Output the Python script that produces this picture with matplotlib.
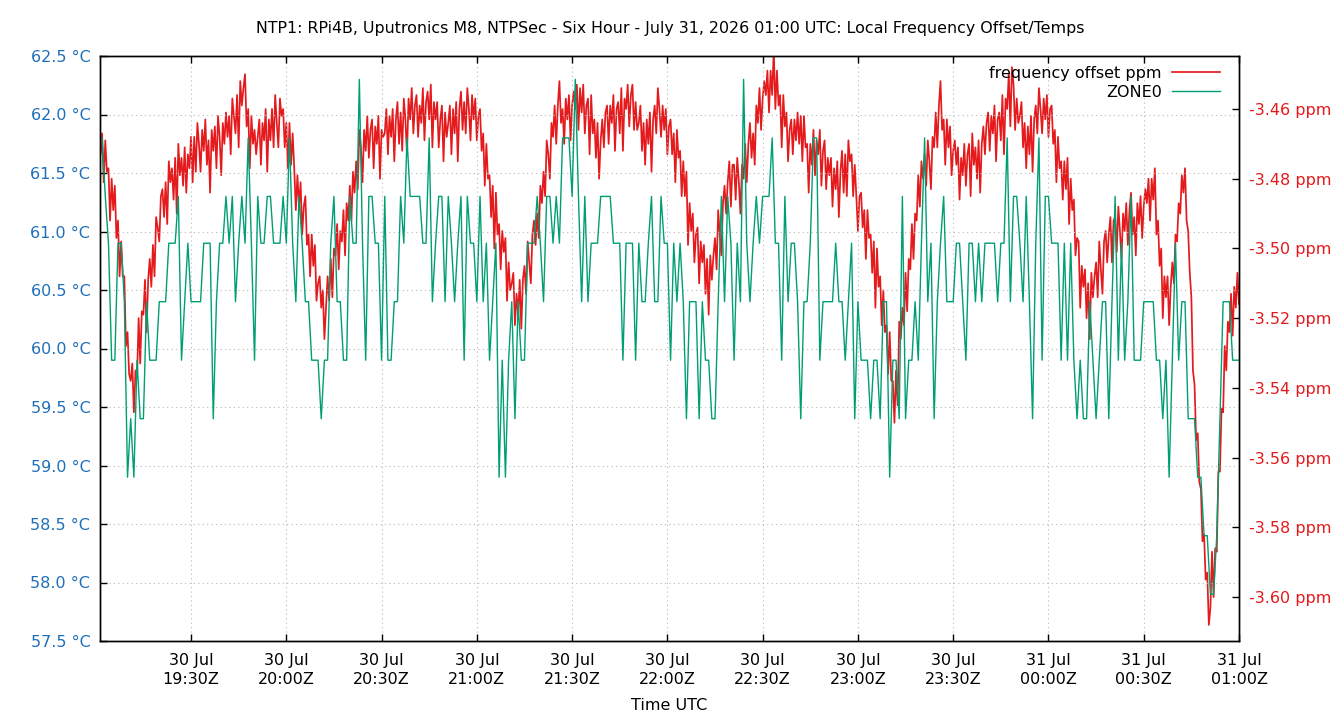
import numpy as np
import matplotlib
matplotlib.use("Agg")
import matplotlib.pyplot as plt
import matplotlib.dates as mdates
from matplotlib.ticker import FuncFormatter

# ---------------- data ----------------
title = ("NTP1: RPi4B, Uputronics M8, NTPSec - Six Hour - July 31, 2026 01:00 UTC: "
         "Local Frequency Offset/Temps")
x_label = "Time UTC"
series_names = ["frequency offset ppm", "ZONE0"]

view_start = "2026-07-30T19:01:20"
view_end = "2026-07-31T01:00:00"

freq_start = "2026-07-30T19:01:00"
freq_step_s = 30
freq_ppm = [
    -3.461, -3.473, -3.467, -3.481, -3.469, -3.478, -3.477, -3.492, -3.480, -3.489, -3.482, -3.497, -3.492, -3.508, -3.498, -3.508, -3.508, -3.528, -3.524, -3.536,
    -3.538, -3.533, -3.547, -3.535, -3.537, -3.520, -3.533, -3.518, -3.519, -3.509, -3.524, -3.509, -3.503, -3.511, -3.499, -3.508, -3.491, -3.494, -3.498, -3.485,
    -3.483, -3.491, -3.481, -3.493, -3.475, -3.481, -3.477, -3.486, -3.474, -3.490, -3.470, -3.479, -3.474, -3.482, -3.471, -3.484, -3.473, -3.477, -3.468, -3.481,
    -3.468, -3.478, -3.464, -3.470, -3.478, -3.466, -3.472, -3.463, -3.476, -3.469, -3.484, -3.466, -3.472, -3.465, -3.477, -3.462, -3.468, -3.479, -3.464, -3.470,
    -3.461, -3.468, -3.462, -3.473, -3.457, -3.462, -3.467, -3.456, -3.471, -3.452, -3.459, -3.454, -3.450, -3.465, -3.460, -3.477, -3.462, -3.470, -3.466, -3.473,
    -3.468, -3.463, -3.476, -3.464, -3.469, -3.460, -3.478, -3.463, -3.469, -3.460, -3.471, -3.456, -3.464, -3.471, -3.457, -3.462, -3.460, -3.471, -3.464, -3.477,
    -3.464, -3.476, -3.467, -3.477, -3.489, -3.479, -3.488, -3.481, -3.496, -3.488, -3.485, -3.499, -3.496, -3.508, -3.496, -3.505, -3.499, -3.515, -3.510, -3.508,
    -3.517, -3.512, -3.526, -3.517, -3.508, -3.515, -3.503, -3.514, -3.500, -3.502, -3.493, -3.506, -3.495, -3.498, -3.489, -3.502, -3.487, -3.492, -3.482, -3.492,
    -3.478, -3.484, -3.475, -3.483, -3.466, -3.471, -3.481, -3.466, -3.472, -3.462, -3.474, -3.466, -3.463, -3.477, -3.465, -3.470, -3.462, -3.480, -3.466, -3.468,
    -3.467, -3.460, -3.473, -3.462, -3.468, -3.460, -3.475, -3.463, -3.458, -3.470, -3.461, -3.472, -3.457, -3.463, -3.473, -3.457, -3.463, -3.454, -3.467, -3.459,
    -3.456, -3.468, -3.459, -3.464, -3.454, -3.469, -3.458, -3.455, -3.463, -3.453, -3.471, -3.458, -3.463, -3.458, -3.471, -3.463, -3.459, -3.475, -3.461, -3.468,
    -3.464, -3.459, -3.473, -3.460, -3.467, -3.458, -3.475, -3.460, -3.455, -3.466, -3.458, -3.467, -3.454, -3.460, -3.469, -3.456, -3.463, -3.457, -3.469, -3.462,
    -3.460, -3.472, -3.467, -3.482, -3.470, -3.480, -3.479, -3.491, -3.482, -3.500, -3.484, -3.496, -3.493, -3.506, -3.495, -3.501, -3.497, -3.515, -3.504, -3.512,
    -3.510, -3.507, -3.522, -3.513, -3.519, -3.509, -3.523, -3.509, -3.505, -3.513, -3.498, -3.504, -3.510, -3.496, -3.492, -3.499, -3.490, -3.497, -3.482, -3.487,
    -3.478, -3.485, -3.469, -3.473, -3.480, -3.464, -3.468, -3.459, -3.470, -3.459, -3.452, -3.464, -3.460, -3.470, -3.457, -3.463, -3.456, -3.469, -3.459, -3.455,
    -3.460, -3.453, -3.466, -3.454, -3.461, -3.453, -3.467, -3.459, -3.457, -3.473, -3.456, -3.467, -3.463, -3.474, -3.464, -3.480, -3.469, -3.463, -3.471, -3.461,
    -3.459, -3.470, -3.459, -3.464, -3.456, -3.472, -3.460, -3.458, -3.467, -3.454, -3.472, -3.457, -3.460, -3.453, -3.465, -3.456, -3.453, -3.466, -3.458, -3.466,
    -3.464, -3.459, -3.472, -3.464, -3.476, -3.463, -3.470, -3.461, -3.478, -3.463, -3.459, -3.467, -3.454, -3.460, -3.468, -3.459, -3.466, -3.460, -3.473, -3.465,
    -3.463, -3.473, -3.467, -3.481, -3.466, -3.474, -3.472, -3.485, -3.475, -3.485, -3.478, -3.499, -3.487, -3.495, -3.490, -3.504, -3.496, -3.494, -3.510, -3.498,
    -3.504, -3.499, -3.513, -3.503, -3.519, -3.502, -3.509, -3.502, -3.497, -3.506, -3.489, -3.496, -3.502, -3.487, -3.482, -3.490, -3.481, -3.475, -3.488, -3.476,
    -3.476, -3.486, -3.474, -3.481, -3.490, -3.476, -3.480, -3.470, -3.481, -3.470, -3.464, -3.474, -3.467, -3.476, -3.459, -3.464, -3.454, -3.466, -3.457, -3.452,
    -3.456, -3.449, -3.461, -3.449, -3.456, -3.443, -3.460, -3.449, -3.459, -3.456, -3.471, -3.456, -3.465, -3.461, -3.475, -3.466, -3.463, -3.473, -3.463, -3.469,
    -3.461, -3.470, -3.462, -3.475, -3.462, -3.471, -3.470, -3.484, -3.470, -3.476, -3.466, -3.479, -3.469, -3.473, -3.466, -3.482, -3.472, -3.469, -3.483, -3.474,
    -3.479, -3.474, -3.488, -3.477, -3.483, -3.475, -3.491, -3.478, -3.472, -3.484, -3.473, -3.485, -3.469, -3.475, -3.473, -3.485, -3.476, -3.485, -3.495, -3.485,
    -3.484, -3.494, -3.489, -3.503, -3.489, -3.497, -3.496, -3.507, -3.498, -3.517, -3.500, -3.511, -3.508, -3.522, -3.512, -3.524, -3.522, -3.536, -3.524, -3.538,
    -3.538, -3.550, -3.535, -3.545, -3.521, -3.526, -3.517, -3.522, -3.507, -3.518, -3.503, -3.506, -3.493, -3.503, -3.490, -3.492, -3.479, -3.488, -3.475, -3.480,
    -3.473, -3.482, -3.469, -3.475, -3.483, -3.468, -3.471, -3.461, -3.471, -3.459, -3.452, -3.466, -3.463, -3.476, -3.463, -3.471, -3.465, -3.479, -3.472, -3.469,
    -3.476, -3.471, -3.486, -3.474, -3.479, -3.470, -3.482, -3.473, -3.470, -3.485, -3.467, -3.476, -3.471, -3.480, -3.469, -3.484, -3.470, -3.465, -3.473, -3.464,
    -3.461, -3.472, -3.462, -3.467, -3.459, -3.475, -3.463, -3.461, -3.469, -3.456, -3.473, -3.457, -3.460, -3.450, -3.465, -3.448, -3.453, -3.466, -3.457, -3.464,
    -3.462, -3.458, -3.471, -3.464, -3.477, -3.465, -3.473, -3.462, -3.478, -3.463, -3.459, -3.467, -3.454, -3.460, -3.467, -3.457, -3.463, -3.456, -3.468, -3.460,
    -3.459, -3.470, -3.466, -3.481, -3.468, -3.477, -3.475, -3.486, -3.475, -3.483, -3.474, -3.493, -3.480, -3.489, -3.486, -3.502, -3.497, -3.498, -3.517, -3.505,
    -3.511, -3.506, -3.520, -3.510, -3.526, -3.507, -3.514, -3.508, -3.504, -3.514, -3.498, -3.506, -3.513, -3.498, -3.495, -3.504, -3.496, -3.491, -3.504, -3.492,
    -3.491, -3.501, -3.488, -3.495, -3.503, -3.490, -3.495, -3.487, -3.499, -3.489, -3.484, -3.496, -3.491, -3.502, -3.487, -3.493, -3.485, -3.497, -3.488, -3.483,
    -3.487, -3.480, -3.492, -3.480, -3.486, -3.477, -3.496, -3.492, -3.505, -3.500, -3.520, -3.508, -3.514, -3.508, -3.522, -3.511, -3.504, -3.510, -3.496, -3.498,
    -3.487, -3.490, -3.479, -3.484, -3.477, -3.492, -3.495, -3.507, -3.514, -3.535, -3.539, -3.555, -3.553, -3.567, -3.569, -3.584, -3.582, -3.595, -3.593, -3.608,
    -3.603, -3.587, -3.600, -3.586, -3.587, -3.564, -3.564, -3.546, -3.547, -3.528, -3.535, -3.521, -3.524, -3.513, -3.525, -3.511, -3.517, -3.507, -3.516, -3.509,
]

temp_start = "2026-07-30T19:01:00"
temp_step_s = 60
zone0_c = [
    61.8, 61.8, 61.3, 60.9, 59.9, 59.9, 60.9, 60.9, 60.4, 58.9,
    59.4, 58.9, 59.9, 59.4, 59.4, 60.4, 59.9, 59.9, 59.9, 60.4,
    60.4, 60.4, 60.9, 60.9, 60.9, 61.3, 59.9, 60.4, 60.9, 60.4,
    60.4, 60.4, 60.4, 60.9, 60.9, 60.9, 59.4, 60.4, 60.9, 60.9,
    61.3, 60.9, 61.3, 60.4, 60.9, 61.3, 60.9, 61.8, 60.9, 59.9,
    61.3, 60.9, 60.9, 61.3, 61.3, 60.9, 60.9, 60.9, 61.3, 60.9,
    61.8, 60.9, 60.4, 61.3, 60.9, 60.4, 60.4, 59.9, 59.9, 59.9,
    59.4, 59.9, 59.9, 60.9, 61.3, 60.4, 60.4, 59.9, 59.9, 61.3,
    60.9, 60.9, 62.3, 60.9, 59.9, 61.3, 61.3, 60.9, 60.9, 59.9,
    61.3, 59.9, 59.9, 60.4, 60.4, 61.3, 60.9, 61.8, 61.3, 61.3,
    61.3, 61.3, 60.9, 60.9, 61.8, 60.4, 60.9, 61.3, 61.3, 60.4,
    61.3, 60.9, 60.4, 60.9, 61.3, 59.9, 61.3, 60.9, 60.9, 60.4,
    61.3, 60.4, 60.9, 59.9, 60.4, 60.9, 58.9, 59.9, 58.9, 59.9,
    60.4, 59.4, 60.4, 59.9, 59.9, 60.9, 60.9, 60.9, 61.3, 60.9,
    60.4, 61.3, 61.3, 60.9, 61.3, 60.9, 61.8, 61.8, 61.8, 61.3,
    62.3, 61.3, 60.4, 61.3, 60.4, 60.9, 60.9, 60.9, 61.3, 61.3,
    61.3, 61.3, 60.9, 60.9, 60.9, 59.9, 60.9, 60.9, 60.9, 59.9,
    60.9, 60.4, 60.4, 60.9, 61.3, 60.4, 60.4, 61.3, 60.9, 60.9,
    59.9, 60.9, 60.4, 60.9, 60.4, 59.4, 60.4, 60.4, 60.4, 59.4,
    60.4, 59.9, 59.9, 59.4, 59.4, 60.4, 61.3, 60.4, 61.3, 60.9,
    59.9, 60.9, 60.4, 62.3, 60.9, 60.4, 60.9, 61.3, 60.9, 61.3,
    61.3, 61.3, 61.8, 60.9, 60.9, 59.9, 61.3, 60.4, 60.9, 60.9,
    60.4, 59.4, 60.4, 60.4, 60.9, 61.8, 61.8, 59.9, 60.4, 60.4,
    60.4, 60.4, 60.9, 60.4, 60.4, 59.9, 60.4, 60.9, 59.4, 60.4,
    59.9, 59.9, 59.9, 59.4, 59.9, 59.9, 59.4, 60.4, 60.4, 58.9,
    59.9, 59.9, 59.4, 61.3, 59.4, 59.9, 59.9, 60.4, 59.9, 60.9,
    61.8, 60.4, 60.9, 59.4, 60.4, 60.9, 61.3, 60.4, 60.4, 60.4,
    60.9, 60.9, 60.4, 59.9, 60.9, 60.9, 60.4, 60.9, 60.4, 60.9,
    60.9, 60.9, 60.9, 60.4, 60.9, 60.9, 61.8, 60.4, 61.3, 61.3,
    60.9, 60.4, 61.3, 60.4, 59.4, 60.9, 61.8, 59.9, 61.3, 61.3,
    60.9, 60.9, 60.9, 59.9, 60.9, 59.9, 60.9, 59.9, 59.4, 59.9,
    59.4, 59.4, 60.4, 59.9, 59.4, 59.9, 60.4, 60.4, 59.4, 60.4,
    61.3, 59.9, 60.9, 59.9, 60.4, 61.3, 59.9, 59.9, 59.9, 60.4,
    60.4, 60.4, 60.4, 59.9, 59.9, 59.4, 59.9, 58.9, 59.9, 60.9,
    59.9, 60.4, 60.4, 59.4, 59.4, 59.4, 58.9, 58.9, 58.4, 58.4,
    57.9, 57.9, 58.4, 59.4, 60.4, 60.4, 60.4, 59.9, 59.9, 59.9,
]

temp_ticks = [57.5, 58.0, 58.5, 59.0, 59.5, 60.0, 60.5, 61.0, 61.5, 62.0, 62.5]
ppm_ticks = [-3.60, -3.58, -3.56, -3.54, -3.52, -3.50, -3.48, -3.46]
temp_range = (57.5, 62.5)
ppm_range = (-3.6126, -3.4448)

# ---------------- style ----------------
RED = "#e41a1c"
GREEN = "#009e73"
BLUE = "#1f6fb8"
FS = 11.5

plt.rcParams["font.family"] = ["DejaVu Sans"]

freq_t = np.datetime64(freq_start) + np.arange(len(freq_ppm)) * np.timedelta64(freq_step_s, "s")
temp_t = np.datetime64(temp_start) + np.arange(len(zone0_c)) * np.timedelta64(temp_step_s, "s")

fig = plt.figure(figsize=(13.4, 7.2), dpi=100)
L, R, B, T = 100 / 1340, 1239 / 1340, 1 - 641 / 720, 1 - 56 / 720
ax2 = fig.add_axes([L, B, R - L, T - B])   # right axis (ppm), drawn underneath
ax1 = fig.add_axes([L, B, R - L, T - B], sharex=ax2)  # left axis (°C), on top
ax1.patch.set_visible(False)
ax1.set_zorder(ax2.get_zorder() + 1)

# red frequency line (right axis)
(l_red,) = ax2.plot(freq_t, freq_ppm, color=RED, lw=1.25, label=series_names[0])
# green temperature line (left axis)
(l_green,) = ax1.plot(temp_t, zone0_c, color=GREEN, lw=1.0, label=series_names[1])

ax1.set_xlim(np.datetime64(view_start), np.datetime64(view_end))
ax1.set_ylim(*temp_range)
ax2.set_ylim(*ppm_range)

# y axes
ax1.yaxis.set_ticks_position("left")
ax1.set_yticks(temp_ticks)
ax1.yaxis.set_major_formatter(FuncFormatter(lambda v, p: f"{v:.1f} °C"))
ax1.tick_params(axis="y", colors="black", labelcolor=BLUE, labelsize=FS,
                direction="in", length=5, width=1, pad=7)

ax2.yaxis.set_ticks_position("right")
ax2.yaxis.set_label_position("right")
ax2.set_yticks(ppm_ticks)
ax2.yaxis.set_major_formatter(FuncFormatter(lambda v, p: f"{v:.2f} ppm"))
ax2.tick_params(axis="y", colors="black", labelcolor=RED, labelsize=FS,
                direction="in", length=5, width=1, pad=7)

# x axis
ax1.xaxis.set_major_locator(mdates.MinuteLocator(byminute=[0, 30]))
ax1.xaxis.set_major_formatter(mdates.DateFormatter("%d %b\n%H:%MZ"))
ax1.tick_params(axis="x", labelsize=FS, direction="in", length=5, width=1,
                top=True, bottom=True, pad=9)
ax2.tick_params(axis="x", bottom=False, top=False, labelbottom=False)
fig.canvas.draw()
for lab in ax1.get_xticklabels():
    lab.set_horizontalalignment("center")
    lab.set_linespacing(1.3)

# grid
ax1.grid(True, which="major", axis="both", color="#b8b8b8", lw=0.8,
         linestyle=(0, (1, 3)))

for sp in list(ax1.spines.values()) + list(ax2.spines.values()):
    sp.set_linewidth(1.0)
    sp.set_color("black")

# legend
leg = ax1.legend(handles=[l_red, l_green], loc="upper right",
                 bbox_to_anchor=((1220 - 100) / 1139, (641 - 66) / 585),
                 frameon=False, markerfirst=False, fontsize=FS,
                 handlelength=3.0, handletextpad=0.65, labelspacing=0.25,
                 borderpad=0, borderaxespad=0)
for txt in leg.get_texts():
    txt.set_horizontalalignment("right")
leg._legend_box.align = "right"

fig.text(0.5, 1 - 28 / 720, title, ha="center", va="center", fontsize=11.4)
fig.text((100 + 1239) / 2 / 1340, 1 - 706 / 720, x_label, ha="center", va="center",
         fontsize=FS)

fig.savefig("out.png", dpi=100, facecolor="white")
